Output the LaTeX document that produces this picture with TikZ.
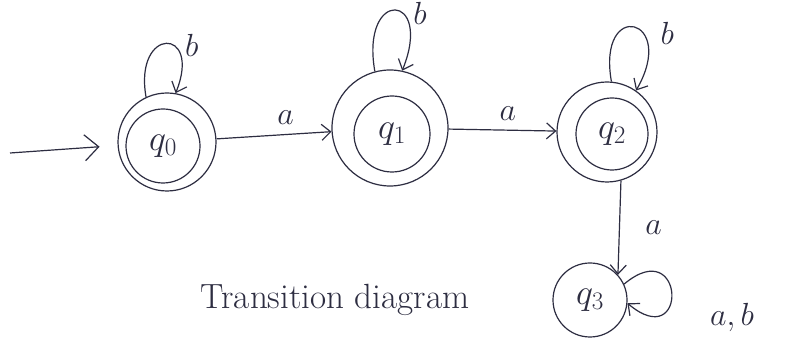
\RequirePackage{fix-cm}
\documentclass[tikz,border=0pt]{standalone}
\usetikzlibrary{arrows.meta}
\definecolor{pen}{RGB}{45,45,65}
\begin{document}
\begin{tikzpicture}[x=1pt,y=1pt,
  every path/.style={color=pen},
  ring/.style={circle,draw=pen,line width=1.2pt,inner sep=0pt},
  stlab/.style={circle,draw=pen,line width=1.2pt,inner sep=0pt,text=pen,font=\fontsize{36}{38}\selectfont},
  trans/.style={draw=pen,line width=1.2pt,-{Straight Barb[length=9pt,width=16pt,line width=1.2pt]}},
  bigarrow/.style={draw=pen,line width=1.2pt,-{Straight Barb[length=14pt,width=26pt,line width=1.2pt]}},
  lbl/.style={text=pen,font=\fontsize{32}{34}\selectfont}]
\useasboundingbox (0,0) rectangle (808,352);
\fill[white] (0,0) rectangle (808,352);
% states
\node[ring,minimum size=98pt] (q0) at (167,210) {};
\node[stlab,minimum size=74pt] (q0i) at (163,206) {$q_0$};
\node[ring,minimum size=116pt] (q1) at (390,224) {};
\node[stlab,minimum size=76pt] (q1i) at (392,218) {$q_1$};
\node[ring,minimum size=100pt] (q2) at (607,220) {};
\node[stlab,minimum size=72pt] (q2i) at (612,218) {$q_2$};
\node[stlab,minimum size=74pt] (q3) at (590,52) {$q_3$};
% start arrow
\coordinate (start) at (10,199);
\draw[bigarrow,shorten >=18pt] (start) -- (q0);
% transitions
\draw[trans] (q0) -- node[lbl,above=6pt,pos=0.6] {$a$} (q1);
\draw[trans] (q1) -- node[lbl,above=6pt,pos=0.55] {$a$} (q2);
\draw[trans] (q2.286) -- node[lbl,right=22pt,pos=0.5] {$a$} (q3.42);
% self loops
\draw[trans] (q0.115) .. controls +(100:72) and +(68:72) .. node[lbl,right=8pt,pos=0.6] {$b$} (q0.80);
\draw[trans] (q1.105) .. controls +(100:85) and +(68:85) .. node[lbl,right=6pt,pos=0.62] {$b$} (q1.78);
\draw[trans] (q2.85) .. controls +(100:85) and +(60:85) .. node[lbl,right=14pt,pos=0.62] {$b$} (q2.55);
\draw[trans] (q3.25) .. controls +(40:80) and +(-40:80) .. (q3.-5);
\node[lbl] (lab3) at (732,34) {$a,b$};
% caption
\node[text=pen,font=\fontsize{35}{37}\selectfont] (cap) at (335,52) {Transition diagram};
\end{tikzpicture}
\end{document}
